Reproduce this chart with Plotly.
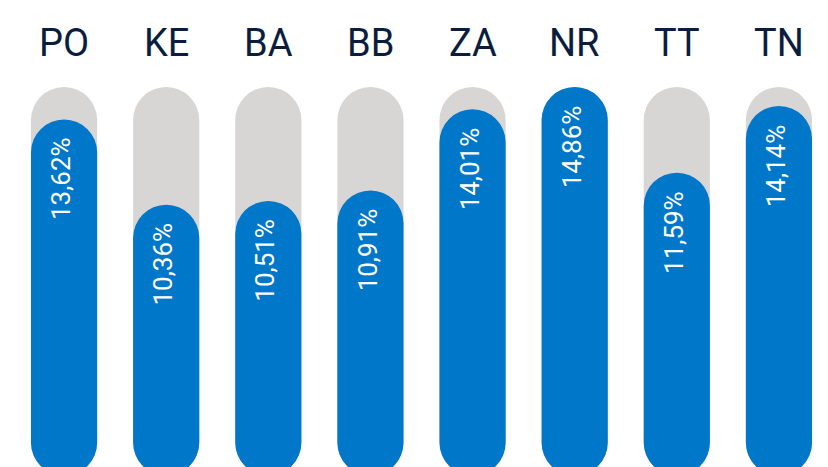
import plotly.graph_objects as go

categories = ["PO", "KE", "BA", "BB", "ZA", "NR", "TT", "TN"]
values = [13.62, 10.36, 10.51, 10.91, 14.01, 14.86, 11.59, 14.14]
track = max(values)
floor = 0.01  # bar base (non-zero base gives rounded bottom corners too)

BLUE = "#0077C8"
GREY = "#D8D5D5"
NAVY = "#0B1D3F"

labels = [f"{v:.2f}".replace(".", ",") + "%" for v in values]

fig = go.Figure()
fig.add_trace(go.Bar(
    x=categories, y=[track - floor] * len(categories), base=floor,
    marker=dict(color=GREY, cornerradius="50%", line=dict(width=0)),
    hoverinfo="skip", showlegend=False,
))
fig.add_trace(go.Bar(
    x=categories, y=[v - floor for v in values], base=floor,
    marker=dict(color=BLUE, cornerradius="50%", line=dict(width=0)),
    customdata=values, hovertemplate="%{x}: %{customdata:.2f}%<extra></extra>",
    showlegend=False,
))

for c, v, t in zip(categories, values, labels):
    fig.add_annotation(x=c, y=v, xref="x", yref="y", text=t, showarrow=False,
                       textangle=-90, yanchor="top", xanchor="center",
                       yshift=-16, xshift=-3,
                       font=dict(family="Roboto", size=26, color="white"))

for c in categories:
    fig.add_annotation(x=c, y=1 - 35 / 467, xref="x", yref="paper",
                       text=c, showarrow=False, yanchor="middle",
                       font=dict(family="Roboto", size=38, color=NAVY))

fig.update_layout(
    width=828, height=467,
    margin=dict(l=5, r=6, t=0, b=0),
    paper_bgcolor="white", plot_bgcolor="white",
    barmode="overlay", bargap=0.352,
    xaxis=dict(visible=False, range=[-0.5, 7.5]),
    yaxis=dict(visible=False, range=[0.038, 17.88]),
)

fig.write_html("out.html")
